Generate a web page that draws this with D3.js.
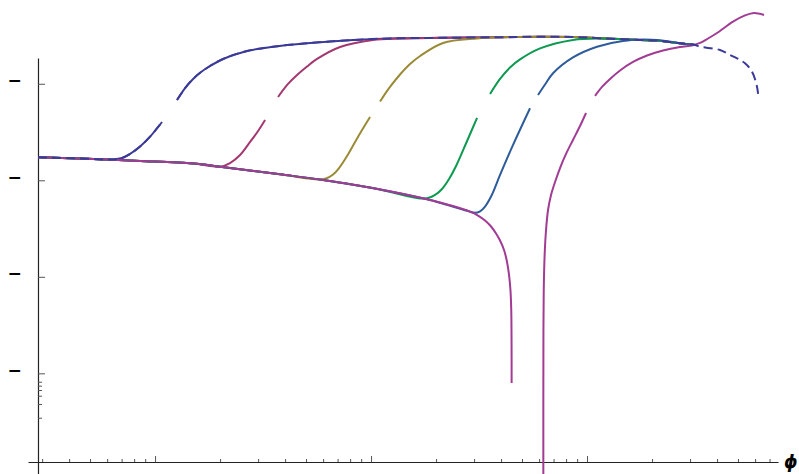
<!DOCTYPE html>
<html>
<head>
<meta charset="utf-8">
<script src="https://cdn.jsdelivr.net/npm/d3@7"></script>
<style>
  body { margin: 0; background: #fff; }
  svg { display: block; }
</style>
</head>
<body>
<script>
// values: [phi, log value]; null = break in the curve
var baseLeft = [[0.287,2.238],[0.449,2.226],[0.639,2.212],[0.852,2.200],[1.5,2.174],[2.0,2.141],
                [3.791,2.062],[5.995,2.003],[10.43,1.915],[18.17,1.803],[28.73,1.675]];

var plateau = [[13.62,3.472],[21.54,3.476],[39.56,3.482],[60.6,3.488],[86.1,3.484],[114.9,3.472],
               [176,3.454],[211,3.447],[269.6,3.420],[316.2,3.402]];

var navyRise = [[0.287,2.238],[0.449,2.226],[0.639,2.216],[0.7035,2.231],[0.766,2.273],[0.852,2.350],
                [0.948,2.452],[1.077,2.604],null,[1.264,2.832],[1.377,2.956],[1.5,3.050],[1.633,3.122],
                [1.797,3.184],[2.064,3.257],[2.667,3.340],[3.518,3.384],[5.054,3.420],[8.254,3.454]];

var maroonRise = [[2.0,2.141],[2.224,2.179],[2.475,2.262],[2.754,2.397],[2.999,2.511],[3.231,2.625],null,
                  [3.71,2.863],[4.127,2.998],[4.543,3.091],[5.054,3.179],[5.623,3.257],[7.186,3.381],
                  [10.21,3.454],[13.62,3.469]];

var oliveRise = [[5.684,2.009],[6.19,2.019],[6.672,2.060],[7.11,2.127],[7.743,2.252],[8.432,2.397],[9.085,2.521],
                 [9.894,2.656],null,[11.01,2.817],[12.24,2.967],[13.62,3.096],[15.15,3.205],[16.87,3.288],
                 [21.54,3.423],[30.96,3.469]];

var greenRise = [[16.87,1.811],[18.36,1.817],[19.79,1.848],[21.31,1.910],[22.97,2.013],[24.75,2.148],
                 [27.83,2.407],[30.96,2.646],null,[35.56,2.894],[39.56,3.050],[44.0,3.169],[48.96,3.252],
                 [60.6,3.366],[86.1,3.454],[114.9,3.469]];

var blueRise = [[30.3,1.664],[31.97,1.679],[33.71,1.728],[36.33,1.853],[39.56,2.055],[45.44,2.366],[54.46,2.746],null,
                [59.31,2.884],[63.9,2.993],[69.6,3.109],[86.1,3.273],[111.2,3.384],[146.8,3.444],[211,3.454]];

var magentaDrop = [[31.29,1.635],[33.71,1.583],[35.94,1.521],[37.91,1.449],[39.56,1.376],[41.28,1.278],
                   [42.62,1.153],[43.54,1.019],[44.2,0.863],[44.58,0.656],[44.72,0.345],[44.76,-0.100]];

var magentaRise = [[62.77,-1.209],[62.83,0.449],[63.1,0.915],[63.64,1.226],[64.6,1.485],[65.99,1.692],
                   [68.13,1.848],[71.11,1.982],[74.99,2.127],[79.94,2.273],[86.1,2.418],[92.82,2.563],
                   [98.95,2.697],null,[108.9,2.874],[117.3,2.967],[127.8,3.050],[142.2,3.138],[163.3,3.226],
                   [189.6,3.293],[224.9,3.345],[269.6,3.381],[309.6,3.399],[333.5,3.423],[363.3,3.469],
                   [399.8,3.526],[474.2,3.644],[538.9,3.708],[593.1,3.734],[659.8,3.713]];

var dashedEnd = [[333.5,3.384],[412.8,3.350],[459.2,3.298],[494.8,3.264],[538.9,3.212],[580.6,3.125],
                 [612.4,2.970],[622.3,2.850]];

var xMajorTicks = [1, 10, 100];
var xMinorTicks = [0.3,0.4,0.5,0.6,0.7,0.8,0.9, 2,3,4,5,6,7,8,9, 20,30,40,50,60,70,80,90, 200,300,400,500,600,700];
var yMajorTicks = [0, 1, 2, 3];
var yMinorTicks = [-0.087, -0.128, -0.173, -0.232, -0.318, -0.46];
var yTickLabels = ["\u2212", "\u2212", "\u2212", "\u2212"];
var xAxisLabel = "\u03d5";

var colors = ["#3b3a98", "#a33870", "#9b8a35", "#0d9a50", "#2e5c9a", "#a23b93"];

function withBase(rise) {
  var first = rise[0][0];
  return baseLeft.filter(function(d) { return d[0] < first; }).concat(rise);
}
function withPlateau(pts) {
  var last = pts[pts.length - 1][0];
  return pts.concat(plateau.filter(function(d) { return d[0] > last; }));
}

var navy = withPlateau(navyRise);
var series = [
  {pts: navy, color: colors[0]},
  {pts: withPlateau(withBase(maroonRise)), color: colors[1]},
  {pts: withPlateau(withBase(oliveRise)), color: colors[2]},
  {pts: withPlateau(withBase(greenRise)), color: colors[3]},
  {pts: withPlateau(withBase(blueRise)), color: colors[4]},
  {pts: baseLeft.concat(magentaDrop, [null], magentaRise), color: colors[5]},
  {pts: navy.concat(dashedEnd), color: colors[0], dashed: true}
];

var width = 799, height = 474;
var svg = d3.select("body").append("svg")
    .attr("width", width)
    .attr("height", height);

var x = d3.scaleLog().domain([0.258, 766]).range([28, 778]);
var y = d3.scaleLinear().domain([-1.043, 3.267]).range([474, 58]);
var xAxisY = 462;

// x axis, ticks pointing up
var gx = svg.append("g").attr("transform", "translate(0," + xAxisY + ")");
gx.call(d3.axisTop(x).tickValues(xMajorTicks).tickSize(6).tickSizeOuter(0).tickFormat(""));
gx.append("g").call(d3.axisTop(x).tickValues(xMinorTicks).tickSize(3).tickSizeOuter(0).tickFormat(""))
  .select(".domain").remove();

// y axis, ticks pointing right
var gy = svg.append("g").attr("transform", "translate(" + x(0.287) + ",0)");
gy.call(d3.axisRight(y).tickValues(yMajorTicks).tickSize(7).tickSizeOuter(0).tickFormat(""));
gy.append("g").call(d3.axisRight(y).tickValues(yMinorTicks).tickSize(4).tickSizeOuter(0).tickFormat(""))
  .select(".domain").remove();

svg.selectAll(".domain").attr("stroke", "#222").attr("stroke-width", 1.2);
svg.selectAll(".tick line").attr("stroke", "#555");

svg.selectAll(".ylab")
  .data(yMajorTicks)
  .enter().append("text")
    .attr("class", "ylab")
    .attr("x", 14.5)
    .attr("y", function(d) { return y(d) + 2.5; })
    .attr("text-anchor", "middle")
    .style("font", "bold 17px 'DejaVu Sans'")
    .text(function(d, i) { return yTickLabels[i]; });

svg.append("text")
    .attr("x", 784)
    .attr("y", 468)
    .style("font", "italic bold 17px 'DejaVu Sans'")
    .text(xAxisLabel);

var line = d3.line()
    .defined(function(d) { return d !== null; })
    .x(function(d) { return x(d[0]); })
    .y(function(d) { return y(d[1]); })
    .curve(d3.curveCatmullRom.alpha(0.5));

svg.selectAll(".curve")
  .data(series)
  .enter().append("path")
    .attr("class", "curve")
    .attr("fill", "none")
    .attr("stroke", function(d) { return d.color; })
    .attr("stroke-width", 2)
    .attr("stroke-dasharray", function(d) { return d.dashed ? "9,5" : null; })
    .attr("d", function(d) { return line(d.pts); });
</script>
</body>
</html>
